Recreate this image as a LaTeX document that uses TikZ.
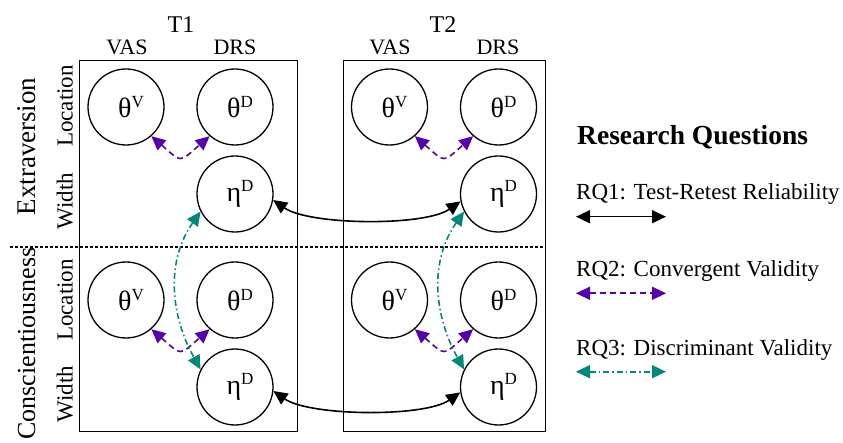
\documentclass[tikz,border=0pt]{standalone}
\usepackage{fontspec}
\setmainfont{Liberation Serif}
\usetikzlibrary{arrows.meta}
\definecolor{rqpurple}{RGB}{85,0,170}
\definecolor{rqteal}{RGB}{0,137,123}
\newcommand{\latlab}[2]{\hspace*{10pt}{\fontsize{28}{28}\selectfont #1}\raisebox{9.5pt}{\fontsize{17}{17}\selectfont #2}}
\begin{document}
\begin{tikzpicture}[x=1pt,y=1pt,
  lat/.style={circle,draw,line width=1.3pt,minimum size=76pt,inner sep=0pt},
  frame/.style={draw,line width=1.4pt,inner sep=0pt,anchor=south west},
  toplab/.style={font=\fontsize{24}{24}\selectfont,anchor=base,inner sep=0pt},
  head/.style={font=\fontsize{22}{22}\selectfont,anchor=base,inner sep=0pt},
  side/.style={font=\fontsize{23}{23}\selectfont,rotate=90,anchor=base,inner sep=0pt},
  trait/.style={font=\fontsize{27}{27}\selectfont,rotate=90,anchor=base,inner sep=0pt},
  legtext/.style={font=\fontsize{23}{23}\selectfont,anchor=base west,inner sep=0pt},
  tips/.style={{Triangle[length=14pt,width=13pt]}-{Triangle[length=14pt,width=13pt]}},
  rqone/.style={tips,line width=1.6pt,black},
  rqtwo/.style={tips,line width=1.6pt,rqpurple,dash pattern=on 6pt off 4pt},
  rqthree/.style={tips,line width=1.6pt,rqteal,dash pattern=on 6pt off 3pt on 1.5pt off 3pt}
]
\useasboundingbox (0,0) rectangle (843,442);
% frames
\node[frame,minimum width=218pt,minimum height=371pt] (box1) at (79,10) {};
\node[frame,minimum width=202pt,minimum height=371pt] (box2) at (343,10) {};
% dashed separator
\coordinate (sepL) at (10,195);
\coordinate (sepR) at (545,195);
\draw[line width=1.1pt,dash pattern=on 3pt off 2pt] (sepL) -- (sepR);
% headers
\node[toplab] (t1) at (181,409) {T1};
\node[toplab] (t2) at (443,409) {T2};
\node[head] (vas1) at (127,387) {VAS};
\node[head] (drs1) at (235,387) {DRS};
\node[head] (vas2) at (390,387) {VAS};
\node[head] (drs2) at (498,387) {DRS};
% side labels
\node[trait] (extra) at (35,295.5) {Extraversion};
\node[trait,font=\fontsize{26}{26}\selectfont] (consc) at (35,98.5) {Conscientiousness};
\node[side] (loc1) at (72.7,336) {Location};
\node[side] (wid1) at (72.7,241) {Width};
\node[side] (loc2) at (72.7,142) {Location};
\node[side] (wid2) at (72.7,48) {Width};
% latent nodes T1
\node[lat] (tv1) at (126,335) {\latlab{θ}{V}};
\node[lat] (td1) at (235,335) {\latlab{θ}{D}};
\node[lat] (ed1) at (235,248) {\latlab{η}{D}};
\node[lat] (tv1b) at (126,142) {\latlab{θ}{V}};
\node[lat] (td1b) at (235,142) {\latlab{θ}{D}};
\node[lat] (ed1b) at (235,55) {\latlab{η}{D}};
% latent nodes T2
\node[lat] (tv2) at (389.5,335) {\latlab{θ}{V}};
\node[lat] (td2) at (498.5,335) {\latlab{θ}{D}};
\node[lat] (ed2) at (498.5,248) {\latlab{η}{D}};
\node[lat] (tv2b) at (389.5,142) {\latlab{θ}{V}};
\node[lat] (td2b) at (498.5,142) {\latlab{θ}{D}};
\node[lat] (ed2b) at (498.5,55) {\latlab{η}{D}};
% RQ1
\draw[rqone] (ed1.-9) to[out=-35,in=-145,looseness=0.6] (ed2.191);
\draw[rqone] (ed1b.-6) to[out=-35,in=-145,looseness=0.6] (ed2b.188);
% RQ2
\draw[rqtwo] (tv1.-49) to[out=-41,in=-139,looseness=1.8] (td1.229);
\draw[rqtwo] (tv1b.-49) to[out=-41,in=-139,looseness=1.8] (td1b.229);
\draw[rqtwo] (tv2.-49) to[out=-41,in=-139,looseness=1.8] (td2.229);
\draw[rqtwo] (tv2b.-49) to[out=-41,in=-139,looseness=1.8] (td2b.229);
% RQ3
\draw[rqthree] (ed1.207) to[out=235,in=119] (ed1b.153);
\draw[rqthree] (ed2.207) to[out=235,in=119] (ed2b.153);
% legend
\node[anchor=base west,inner sep=0pt,font=\fontsize{27.5}{27.5}\selectfont\bfseries] (legtitle) at (577,297) {Research Questions};
\node[legtext] (leg1) at (576,242) {RQ1: Test-Retest Reliability};
\node[legtext] (leg2) at (576,165) {RQ2: Convergent Validity};
\node[legtext] (leg3) at (576,87) {RQ3: Discriminant Validity};
\coordinate (l1a) at (576,225.3); \coordinate (l1b) at (666,225.3);
\coordinate (l2a) at (576,148.7); \coordinate (l2b) at (666,148.7);
\coordinate (l3a) at (576,70.3); \coordinate (l3b) at (666,70.3);
\draw[rqone] (l1a) -- (l1b);
\draw[rqtwo] (l2a) -- (l2b);
\draw[rqthree] (l3a) -- (l3b);
\end{tikzpicture}
\end{document}
